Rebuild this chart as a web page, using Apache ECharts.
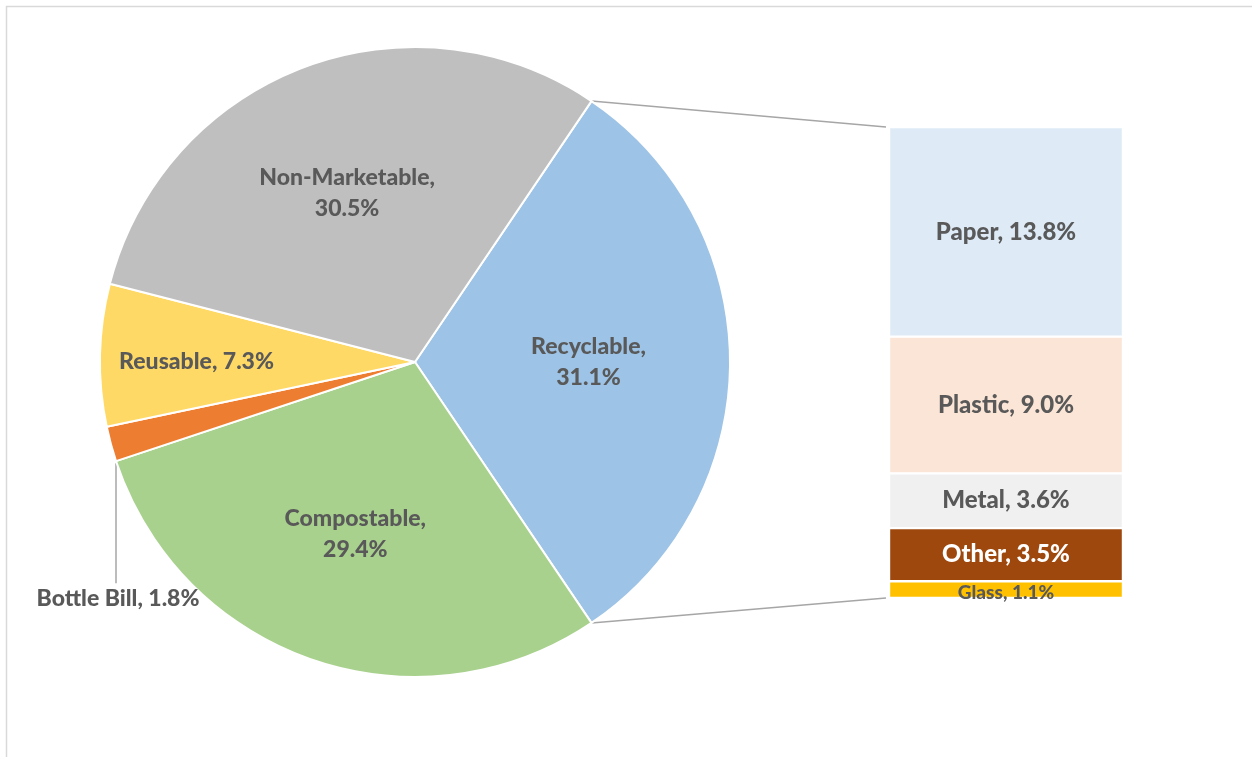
<!DOCTYPE html>
<html><head><meta charset="utf-8">
<script src="https://cdn.jsdelivr.net/npm/echarts@6/dist/echarts.min.js"></script>
<style>html,body{margin:0;padding:0;background:#fff;overflow:hidden}#c{width:1252px;height:757px;}</style>
</head><body><div id="c"></div>
<script>
// ---- data ----
const mainNames = ['Recyclable', 'Compostable', 'Bottle Bill', 'Reusable', 'Non-Marketable'];
const mainValues = [31.1, 29.4, 1.8, 7.3, 30.5];
const subNames = ['Glass', 'Other', 'Metal', 'Plastic', 'Paper'];
const subValues = [1.1, 3.5, 3.6, 9.0, 13.8];

// ---- styles ----
const mainColors = ['#9DC3E6', '#A9D18E', '#ED7D31', '#FFD966', '#BFBFBF'];
const subColors = ['#FFC000', '#9E480E', '#F0F0F0', '#FBE5D6', '#DEEBF7'];
const mainMultiLine = [true, true, false, false, true];
const mainLabelOffsets = [[13, 0], [-8, 20], [0, 0], [-58, 3], [-11, -19]];
const FONT = 'Lato';
const TXT = '#595959';

const cx = 415, cy = 362, R = 315;
const grid = { left: 889, top: 127, width: 234, height: 471 };

const total = mainValues.reduce((a, b) => a + b, 0);
const startAngle = 360 * mainValues[0] / total / 2;
function angleAt(idx) { // start angle of slice idx (clockwise)
  let cum = 0; for (let i = 0; i < idx; i++) cum += mainValues[i];
  return startAngle - 360 * cum / total;
}
function ptAt(a) { const t = a * Math.PI / 180; return [cx + R * Math.cos(t), cy - R * Math.sin(t)]; }

const recTop = ptAt(angleAt(0));
const recBot = ptAt(angleAt(1));
const bbIdx = mainNames.indexOf('Bottle Bill');
const bbCorner = ptAt(angleAt(bbIdx));
const bbLabelY = bbCorner[1] + 137;

const fmt = v => Number(v).toFixed(1);

const pieData = mainNames.map((n, i) => ({
  name: n, value: mainValues[i],
  itemStyle: { color: mainColors[i] },
  label: { offset: mainLabelOffsets[i] }
}));

const subTotal = subValues.reduce((a, b) => a + b, 0);
const barSeries = subNames.map((n, i) => ({
  type: 'bar', name: n, stack: 'sub', barWidth: '100%',
  data: [subValues[i]],
  itemStyle: { color: subColors[i], borderColor: '#fff', borderWidth: 1.2 },
  label: {
    show: true, position: 'inside',
    formatter: p => p.seriesName + ', ' + fmt(p.value) + '%',
    fontFamily: FONT, fontWeight: 900,
    fontSize: n === 'Glass' ? 19 : 24,
    offset: n === 'Glass' ? [0, 3] : [0, 0],
    color: n === 'Other' ? '#ffffff' : TXT
  },
  emphasis: { disabled: true },
  animation: false
}));

const chart = echarts.init(document.getElementById('c'), null, { renderer: 'canvas' });
chart.setOption({
  animation: false,
  backgroundColor: '#fff',
  grid: grid,
  xAxis: { type: 'category', data: ['Recyclable'], show: false },
  yAxis: { type: 'value', min: 0, max: subTotal, show: false },
  graphic: [
    { type: 'rect', shape: { x: 6.5, y: 6.5, width: 1300, height: 800 }, style: { fill: 'none', stroke: '#D9D9D9', lineWidth: 1.5 }, silent: true },
    { type: 'line', shape: { x1: recTop[0], y1: recTop[1], x2: grid.left - 3, y2: grid.top }, style: { stroke: '#A6A6A6', lineWidth: 1.5 }, silent: true },
    { type: 'line', shape: { x1: recBot[0], y1: recBot[1], x2: grid.left - 3, y2: grid.top + grid.height }, style: { stroke: '#A6A6A6', lineWidth: 1.5 }, silent: true },
    { type: 'line', shape: { x1: bbCorner[0], y1: bbCorner[1] + 2, x2: bbCorner[0], y2: bbLabelY - 15 }, style: { stroke: '#A6A6A6', lineWidth: 1.5 }, silent: true }
  ],
  series: [
    {
      type: 'pie', center: [cx, cy], radius: R,
      startAngle: startAngle, clockwise: true, sort: null,
      data: pieData,
      itemStyle: { borderColor: '#fff', borderWidth: 2 },
      label: {
        show: true, position: 'inside',
        fontFamily: FONT, fontWeight: 900, fontSize: 23, lineHeight: 31, color: TXT,
        formatter: p => mainMultiLine[p.dataIndex] ? p.name + ',\n' + fmt(p.value) + '%' : p.name + ', ' + fmt(p.value) + '%'
      },
      labelLine: { show: false },
      labelLayout: p => p.dataIndex === bbIdx ? { x: bbCorner[0] + 2, y: bbLabelY, align: 'center', verticalAlign: 'middle' } : null,
      emphasis: { disabled: true },
      animation: false
    },
    ...barSeries
  ]
});
</script>
</body></html>
